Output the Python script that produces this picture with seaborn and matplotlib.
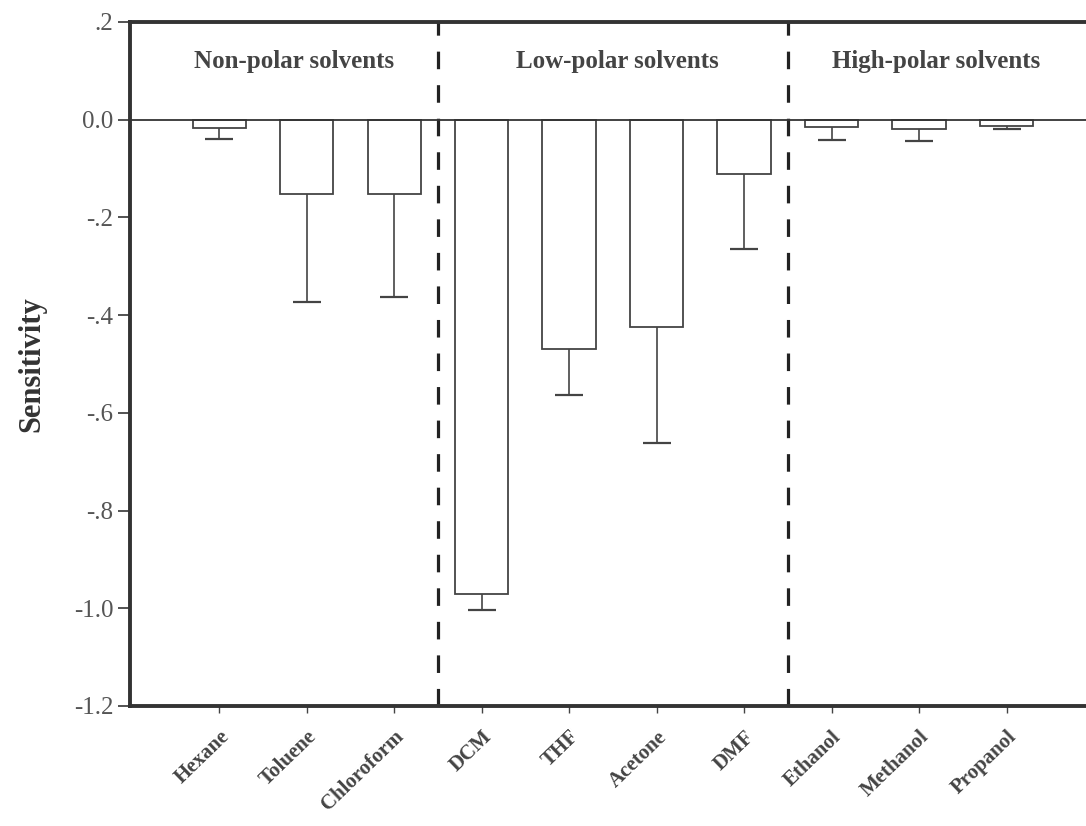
import matplotlib
matplotlib.use("Agg")
import matplotlib.pyplot as plt
import seaborn as sns
import numpy as np
import pandas as pd

solvents = ["Hexane", "Toluene", "Chloroform", "DCM", "THF", "Acetone", "DMF",
            "Ethanol", "Methanol", "Propanol"]
sensitivity = [-0.017, -0.152, -0.152, -0.970, -0.470, -0.424, -0.112,
               -0.015, -0.020, -0.013]
error_low = [0.023, 0.221, 0.211, 0.034, 0.094, 0.238, 0.152, 0.026, 0.023, 0.007]
groups = ["Non-polar solvents", "Low-polar solvents", "High-polar solvents"]
ytick_vals = [0.2, 0.0, -0.2, -0.4, -0.6, -0.8, -1.0, -1.2]
ytick_labels = [".2", "0.0", "-.2", "-.4", "-.6", "-.8", "-1.0", "-1.2"]

sns.set_theme(style="white")
plt.rcParams['font.family'] = ['Liberation Serif', 'DejaVu Serif']

df = pd.DataFrame({"solvent": solvents, "value": sensitivity})

fig = plt.figure(figsize=(10.86, 8.26), dpi=100)
ax = fig.add_axes([130/1086, 1-706/826, (1094-130)/1086, (706-22)/826])

sns.barplot(data=df, x="solvent", y="value", errorbar=None, color="white",
            edgecolor="#444444", linewidth=1.3, width=0.61, ax=ax, zorder=2)

xpos = np.arange(len(solvents))
eb = ax.errorbar(xpos, sensitivity, yerr=[error_low, np.zeros(len(error_low))],
                 fmt="none", ecolor="#444444", elinewidth=1.2, capsize=10,
                 capthick=1.6, zorder=3)
# keep only the lower caps (one-sided error bars)
caplines = eb[1]
if len(caplines) > 1:
    caplines[1].set_visible(False)

ax.axhline(0, color="#333333", lw=1.3, zorder=4)
for xv in [2.5, 6.5]:
    ax.axvline(xv, color="#222222", lw=2.3, linestyle=(0, (5.5, 5)), zorder=1)

ax.set_xlim(-1.02, 10.0)
ax.set_ylim(-1.2, 0.2)
ax.set_yticks(ytick_vals)
ax.set_yticklabels(ytick_labels, fontsize=18, color="#555555")
ax.set_xticks(xpos)
ax.set_xticklabels(solvents, rotation=44, ha="right", rotation_mode="anchor",
                   fontsize=15, fontweight="bold", color="#444444")
ax.set_xlabel("")
ax.set_ylabel("Sensitivity", fontsize=22, fontweight="bold", color="#333333",
              labelpad=20)

ax.tick_params(axis="y", direction="out", length=9, width=1.3, color="#444444",
               left=True, pad=3)
ax.tick_params(axis="x", direction="out", length=5, width=1, color="#444444",
               bottom=True, pad=10)

for side in ["left", "top", "bottom"]:
    ax.spines[side].set_linewidth(2.8)
    ax.spines[side].set_color("#333333")
ax.spines["right"].set_visible(False)

group_x = [0.86, 4.55, 8.2]
for gx, g in zip(group_x, groups):
    ax.text(gx, 0.12, g, ha="center", va="center", fontsize=18, fontweight="bold",
            color="#444444")

fig.savefig("out.png", dpi=100)
